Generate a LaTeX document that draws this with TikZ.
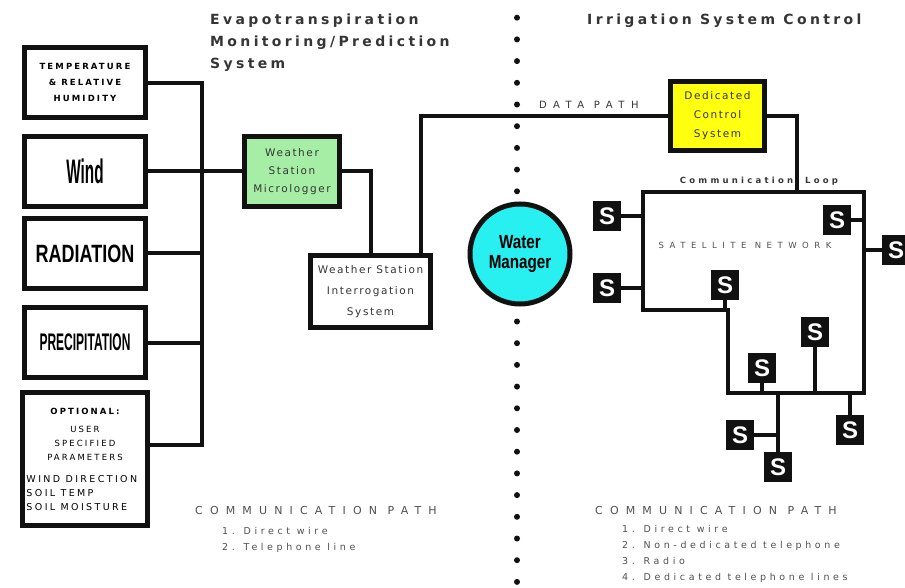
\documentclass[tikz,border=0pt]{standalone}
\usepackage{fontspec}
\setmainfont{Liberation Sans}
\newfontfamily\legendfont[LetterSpace=15]{DejaVu Sans}
\newfontfamily\listfont[LetterSpace=38]{DejaVu Sans}
\newfontfamily\boxcaps[LetterSpace=25]{DejaVu Sans}
\newfontfamily\legendhead[LetterSpace=65]{DejaVu Sans}
\newfontfamily\titlefont[LetterSpace=24]{DejaVu Sans}
\usetikzlibrary{positioning,calc}
\definecolor{ink}        {HTML}{111111}
\definecolor{graytext}   {HTML}{505050}
\definecolor{stationfill}{HTML}{A6EEA6}
\definecolor{ctrlfill}   {HTML}{FFFF10}
\definecolor{mgrfill}    {HTML}{28F0F0}
\tikzset{
  % --- nodes
  box/.style    = {draw=ink, line width=5pt, fill=white, align=center, inner sep=2pt},
  sensor/.style = {box, minimum width=121pt, minimum height=70pt},
  small/.style  = {font=\legendfont\fontsize{10.5}{18}\selectfont, text=ink!85},
  sat/.style    = {fill=ink, minimum width=28pt, minimum height=30pt, inner sep=0pt,
                   text=white, font=\bfseries\fontsize{24}{24}\selectfont},
  title/.style  = {font=\titlefont\bfseries\fontsize{14}{22}\selectfont, text=ink!85,
                   align=left, anchor=north west, inner sep=0pt},
  lhead/.style  = {font=\legendhead\fontsize{11}{12}\selectfont, text=graytext,
                   anchor=west, inner sep=0pt},
  litem/.style  = {font=\listfont\fontsize{9.5}{16}\selectfont, text=graytext,
                   align=left, anchor=north west, inner sep=0pt},
  % --- edges
  wire/.style   = {line width=4pt, draw=ink},
  divider/.style= {line width=6pt, dash pattern=on 0pt off 21.7pt, line cap=round, draw=ink},
}
\newcommand{\narrow}[2]{\scalebox{#1}[1]{#2}}
\newcommand{\optline}[1]{\makebox[117pt][l]{\fontsize{9.5}{14}\selectfont #1}}
\begin{document}
\begin{tikzpicture}[x=1pt, y=-1pt]
  \useasboundingbox (0,0) rectangle (905,588);

  % ------------------------------------------------------------------ divider
  \draw[divider] (517,-4) -- (517,592);

  % ------------------------------------------------------------------ titles
  \node[title] (ettitle) at (210,14)
    {Evapotranspiration\\Monitoring/Prediction\\System};
  \node[title] (ictitle) at (587,14) {Irrigation System Control};

  % ------------------------------------------------------------------ sensors
  \node[sensor, font=\boxcaps\bfseries\fontsize{8.5}{16}\selectfont] (temp) at (85,82.5)
    {TEMPERATURE\\\& RELATIVE\\HUMIDITY};
  \node[sensor, below=14pt of temp] (wind)
    {\narrow{0.45}{\bfseries\fontsize{34}{34}\selectfont Wind}};
  \node[sensor, below=7pt of wind] (rad)
    {\narrow{0.72}{\bfseries\fontsize{25}{25}\selectfont RADIATION}};
  \node[sensor, below=14pt of rad] (precip)
    {\narrow{0.5}{\bfseries\fontsize{24}{24}\selectfont PRECIPITATION}};
  \node[box, minimum width=125pt, minimum height=133pt, below=10pt of precip,
        font=\boxcaps\fontsize{8.5}{14}\selectfont] (opt)
    {{\bfseries OPTIONAL:}\\[4pt]USER\\SPECIFIED\\PARAMETERS\\[8pt]
     \optline{WIND DIRECTION}\\\optline{SOIL TEMP}\\\optline{SOIL MOISTURE}};

  % ------------------------------------------------------------------ station
  \node[box, fill=stationfill, minimum width=95pt, minimum height=70pt,
        right=94pt of wind, small] (stn) {Weather\\Station\\Micrologger};
  \node[box, minimum width=120pt, minimum height=72pt, small,
        font=\legendfont\fontsize{10.5}{21}\selectfont] (interr) at (370.5,291.5)
    {Weather Station\\Interrogation\\System};

  % ------------------------------------------------------------------ control
  \node[box, fill=ctrlfill, minimum width=94pt, minimum height=69pt, small,
        font=\legendfont\fontsize{10.5}{19}\selectfont] (ctrl)
    at (717.5,116) {Dedicated\\Control\\System};
  \node[circle, draw=ink, line width=5pt, fill=mgrfill, minimum size=100pt,
        inner sep=0pt, align=center, font=\bfseries\fontsize{19}{20}\selectfont] (mgr)
    at (520,254) {\narrow{0.8}{Water}\\\narrow{0.8}{Manager}};

  % ------------------------------------------------------------------ bus
  \coordinate (bustop) at (202,83);
  \coordinate (busbot) at (202,445);
  \draw[wire] (temp.east |- bustop) -- (bustop) -- (busbot) -- (busbot -| opt.east);
  \draw[wire] (wind.east) -- (stn.west);
  \draw[wire] (rad.east) -- (rad.east -| bustop);
  \draw[wire] (precip.east) -- (precip.east -| bustop);

  \draw[wire] (stn.east) -| (interr.north);
  \draw[wire] ($(interr.north)+(50,0)$) |- (ctrl.west)
    node[pos=0.84, above=5pt, inner sep=0pt, font=\legendhead\fontsize{10}{10}\selectfont,
         text=ink!85] (dpath) {DATA PATH};

  % ------------------------------------------------------------------ satellite network
  \coordinate (nw) at (643,192);
  \coordinate (ne) at (864,192);
  \coordinate (se) at (864,393);
  \coordinate (sm) at (728,393);
  \coordinate (sk) at (728,310);
  \coordinate (sw) at (643,310);
  \coordinate (loop) at (797,192);
  \coordinate (trunk) at (778,393);
  \draw[wire, line join=miter] (sw) -- (nw) -- (ne) -- (se) -- (sm) -- (sk) -- cycle;
  \draw[wire] (ctrl.east) -| (loop);
  \node[font=\listfont\bfseries\fontsize{8.5}{10}\selectfont, text=ink!85, inner sep=0pt]
    (cloop) at (759,181) {Communication\hspace{12pt}Loop};
  \node[font=\legendhead\fontsize{8.5}{10}\selectfont, text=graytext, inner sep=0pt]
    (satnet) at (745,245) {SATELLITE NETWORK};

  \node[sat] (s1)  at (607,216) {S};
  \node[sat] (s2)  at (607,288) {S};
  \node[sat] (s3)  at (837,220) {S};
  \node[sat] (s4)  at (896,250) {S};
  \node[sat] (s5)  at (725,285) {S};
  \node[sat] (s6)  at (815,332) {S};
  \node[sat] (s7)  at (762,368) {S};
  \node[sat] (s8)  at (740,435) {S};
  \node[sat] (s9)  at (778,467) {S};
  \node[sat] (s10) at (850,430) {S};

  \draw[wire] (s1.east) -- (s1.east -| nw);
  \draw[wire] (s2.east) -- (s2.east -| nw);
  \draw[wire] (s3.east) -- (s3.east -| ne);
  \draw[wire] (s4.west) -- (s4.west -| ne);
  \draw[wire] (s5.south) -- (s5.south |- sk);
  \draw[wire] (s6.south) -- (s6.south |- se);
  \draw[wire] (s7.south) -- (s7.south |- se);
  \draw[wire] (s10.north) -- (s10.north |- se);
  \draw[wire] (trunk) -- (s9.north);
  \draw[wire] (s8.east) -- (s8.east -| trunk);

  % ------------------------------------------------------------------ legends
  \node[lhead] (lcomm) at (195,510) {COMMUNICATION PATH};
  \node[litem] (llist) at (222,527) {1. Direct wire\\2. Telephone line};
  \node[lhead] (rcomm) at (595,510) {COMMUNICATION PATH};
  \node[litem] (rlist) at (622,525)
    {1. Direct wire\\2. Non-dedicated telephone\\3. Radio\\4. Dedicated telephone lines};
\end{tikzpicture}
\end{document}
